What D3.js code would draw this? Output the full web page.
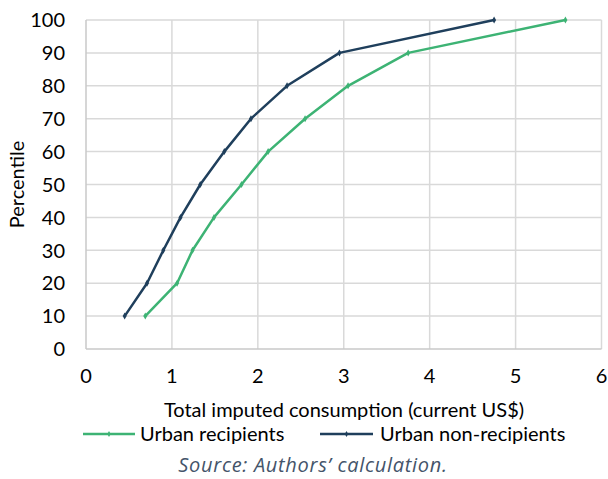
<!DOCTYPE html>
<html><head><meta charset="utf-8">
<script src="https://cdn.jsdelivr.net/npm/d3@7"></script>
<style>html,body{margin:0;padding:0;background:#fff}svg{display:block}</style>
</head><body>
<svg id="c" width="608" height="479"></svg>
<script>
const percentiles = [10,20,30,40,50,60,70,80,90,100];
const recipients = [0.69,1.06,1.24,1.49,1.81,2.12,2.55,3.05,3.75,5.58];
const nonRecipients = [0.45,0.71,0.90,1.10,1.33,1.61,1.92,2.34,2.95,4.75];
const xTicks = [0,1,2,3,4,5,6];
const yTicks = [0,10,20,30,40,50,60,70,80,90,100];
const seriesNames = ["Urban recipients","Urban non-recipients"];
const xTitle = "Total imputed consumption (current US$)";
const yTitle = "Percentile";
const sourceText = "Source: Authors\u2019 calculation.";

const colors = ["#3DB374","#1F3F5C"];
const font = "Lato, 'Open Sans', sans-serif";
const fs = 20;
const svg = d3.select("#c");
const x = d3.scaleLinear().domain([0,6]).range([86,601.5]);
const y = d3.scaleLinear().domain([0,100]).range([349,20]);

const grid = svg.append("g");
grid.selectAll(".h").data(yTicks.filter(d=>d>0)).join("line")
  .attr("x1",x(0)).attr("x2",x(6)).attr("y1",d=>y(d)).attr("y2",d=>y(d))
  .attr("stroke","#d9d9d9").attr("stroke-width",1.5);
grid.selectAll(".v").data(xTicks.filter(d=>d>0)).join("line")
  .attr("x1",d=>x(d)).attr("x2",d=>x(d)).attr("y1",y(0)).attr("y2",y(100))
  .attr("stroke","#d9d9d9").attr("stroke-width",1.5);
grid.append("line").attr("x1",x(0)).attr("x2",x(0)).attr("y1",y(0)).attr("y2",y(100))
  .attr("stroke","#c8c8c8").attr("stroke-width",1.5);
grid.append("line").attr("x1",x(0)).attr("x2",x(6)).attr("y1",y(0)).attr("y2",y(0))
  .attr("stroke","#c8c8c8").attr("stroke-width",1.5);

svg.append("g").selectAll("text").data(yTicks).join("text")
  .attr("x",65).attr("y",d=>y(d)).attr("dy","0.36em").attr("text-anchor","end")
  .attr("font-family",font).attr("font-size",fs).attr("fill","#000").text(d=>d);
svg.append("g").selectAll("text").data(xTicks).join("text")
  .attr("x",d=>x(d)).attr("y",383).attr("text-anchor","middle")
  .attr("font-family",font).attr("font-size",fs).attr("fill","#000").text(d=>d);

svg.append("text").attr("transform","translate(24,184.5) rotate(-90)")
  .attr("text-anchor","middle").attr("font-family",font).attr("font-size",fs).text(yTitle);
svg.append("text").attr("x",344).attr("y",417).attr("text-anchor","middle")
  .attr("font-family",font).attr("font-size",fs).text(xTitle);

const series = [recipients, nonRecipients];
const line = d3.line().x(d=>x(d[0])).y(d=>y(d[1]));
series.forEach((vals,i)=>{
  const pts = vals.map((v,j)=>[v,percentiles[j]]);
  svg.append("path").datum(pts).attr("d",line).attr("fill","none")
    .attr("stroke",colors[i]).attr("stroke-width",2.5).attr("stroke-linejoin","round");
  svg.append("g").selectAll("path").data(pts).join("path")
    .attr("transform",d=>`translate(${x(d[0])},${y(d[1])})`)
    .attr("d",d3.symbol(d3.symbolDiamond,14)).attr("fill",colors[i]);
});

const leg = [{x1:83,x2:135,tx:140},{x1:320,x2:373,tx:380}];
leg.forEach((l,i)=>{
  svg.append("line").attr("x1",l.x1).attr("x2",l.x2).attr("y1",434).attr("y2",434)
    .attr("stroke",colors[i]).attr("stroke-width",2.5);
  svg.append("path").attr("transform",`translate(${(l.x1+l.x2)/2},434)`)
    .attr("d",d3.symbol(d3.symbolDiamond,10)).attr("fill",colors[i]);
  svg.append("text").attr("x",l.tx).attr("y",441).attr("font-family",font)
    .attr("font-size",fs).attr("fill","#000").text(seriesNames[i]);
});

svg.append("text").attr("x",313).attr("y",472).attr("text-anchor","middle")
  .attr("font-family","'Open Sans', Lato, sans-serif").attr("font-size",20).attr("font-style","italic")
  .attr("letter-spacing","0.7px")
  .attr("fill","#44546A").text(sourceText);
</script>
</body></html>
